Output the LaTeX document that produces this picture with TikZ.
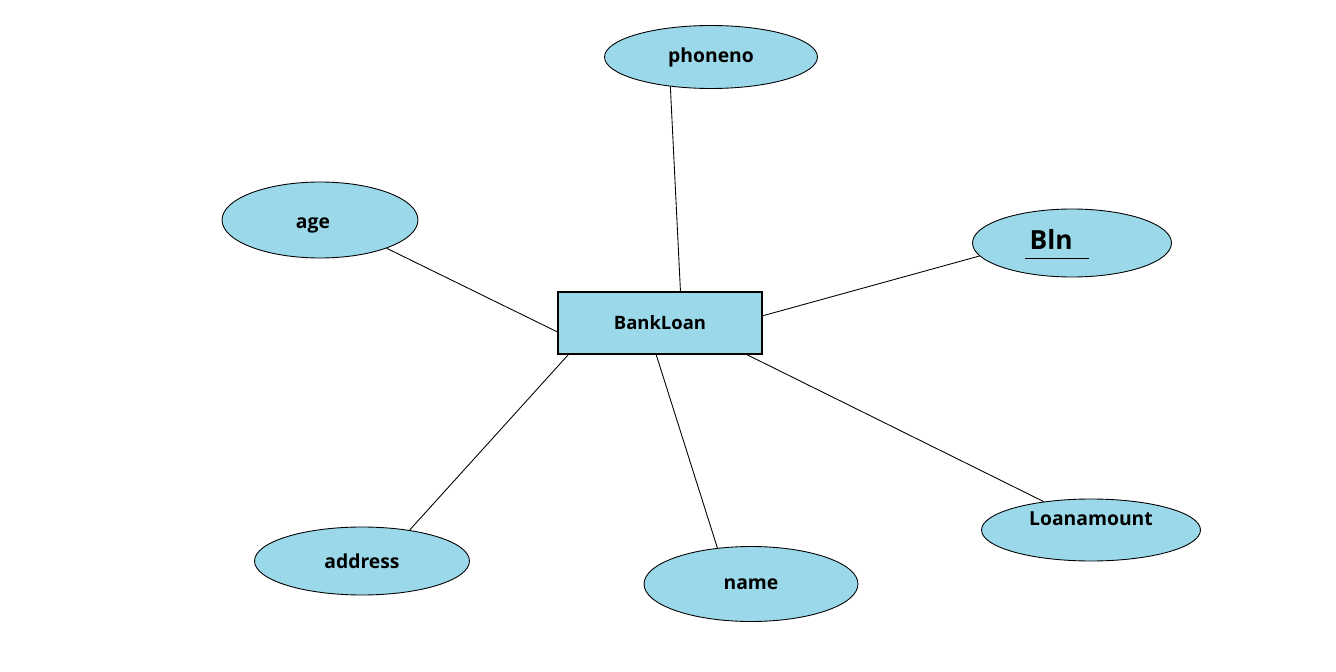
\documentclass[tikz,border=0pt]{standalone}
\usepackage{fontspec}
\setmainfont{Open Sans}
\usetikzlibrary{shapes.geometric}
\definecolor{attrblue}{RGB}{155,217,234}
\tikzset{attr/.style={ellipse,draw=black,line width=0.5pt,fill=attrblue,inner sep=0pt,font=\bfseries\fontsize{11}{13}\selectfont}}
\tikzset{entity/.style={rectangle,draw=black,line width=0.6pt,fill=attrblue,inner sep=0pt,font=\bfseries\fontsize{10.5}{12}\selectfont}}

\begin{document}
\begin{tikzpicture}[x=0.02cm,y=-0.02cm]
\useasboundingbox (0,0) rectangle (1336,672);
% \draw[help lines] (0,0) grid (1336,672);
\node (bank) [entity,minimum width=4.08cm,minimum height=1.24cm] at (660,323) {BankLoan};
%
\node (phoneno) [attr,minimum width=4.26cm,minimum height=1.26cm] at (711,57) {phoneno};
\node (age) [attr,minimum width=3.92cm,minimum height=1.52cm,text height=0.42cm] at (320,220) {age\kern0.28cm};
\node (bln) [attr,minimum width=3.98cm,minimum height=1.36cm,font=\bfseries\fontsize{15}{17}\selectfont] at (1072,243) {\underline{\rule[-0.12cm]{0pt}{0.58cm}\,Bln\hspace{0.32cm}}\kern0.6cm};
\node (address) [attr,minimum width=4.30cm,minimum height=1.36cm] at (362,561) {address};
\node (name) [attr,minimum width=4.28cm,minimum height=1.50cm] at (751,584) {name};
\node (loan) [attr,minimum width=4.38cm,minimum height=1.24cm,text depth=0.45cm] at (1091,530) {Loanamount};
%
\path[-,line width=0.5pt](phoneno.216) edge (bank.57);
\path[-,line width=0.5pt](age.-23) edge (bank.185);
\path[-,line width=0.5pt](bln.188) edge (bank.4);
\path[-,line width=0.5pt](address.33) edge (bank.199);
\path[-,line width=0.5pt](name.133) edge (bank.263);
\path[-,line width=0.5pt](loan.149) edge (bank.340);
\end{tikzpicture}
\end{document}
